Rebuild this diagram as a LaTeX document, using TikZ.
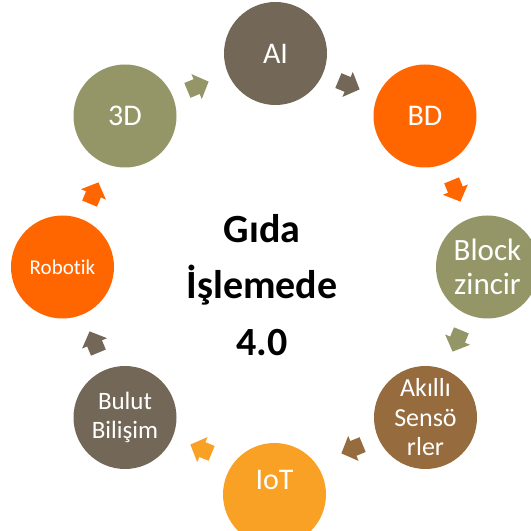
\documentclass[tikz,border=0pt]{standalone}
\usepackage{fontspec}
\setmainfont{Carlito}[Ligatures={NoCommon}]
\definecolor{cgray}{HTML}{736858}
\definecolor{corange}{HTML}{FF6600}
\definecolor{colive}{HTML}{949668}
\definecolor{cbrown}{HTML}{966B3E}
\definecolor{cyellow}{HTML}{F9A124}
\tikzset{
  bubble/.style={circle, fill=#1, draw=none, minimum size=103pt, inner sep=0pt, text=white, align=center},
  blockarr/.style={fill=#1, draw=none}
}
\newcommand{\barrow}[4]{%
  \fill[blockarr=#4, shift={(#1,#2)}, rotate=#3]
    (-11.5,-8) -- (-1.5,-8) -- (-1.5,-13.5) -- (11.5,0) -- (-1.5,13.5) -- (-1.5,8) -- (-11.5,8) -- cycle;}
\begin{document}
\begin{tikzpicture}[x=1pt,y=1pt]
\useasboundingbox (0,0) rectangle (531,531);
\begin{scope}
\clip (0,0) rectangle (531,531);
\node[bubble=cgray, font=\fontsize{30}{33}\selectfont] (ai) at (275.5,477.5) {AI};
\node[bubble=corange, font=\fontsize{30}{33}\selectfont] (bd) at (425,415) {BD};
\node[bubble=colive, font=\fontsize{31}{34}\selectfont] (block) at (487.5,264) {Block\\zincir};
\node[bubble=cbrown, font=\fontsize{26}{29.5}\selectfont] (sens) at (425.5,113.5) {Akıllı\\Sensö\\rler};
\node[circle, fill=cyellow, minimum size=103pt, inner sep=0pt] (iot) at (274.5,36.5) {};
\node[text=white, font=\fontsize{30}{33}\selectfont] (iott) at (274.5,51) {IoT};
\node[bubble=cgray, font=\fontsize{25}{29}\selectfont] (bulut) at (125,113.5) {Bulut\\Bilişim};
\node[bubble=corange, font=\fontsize{21}{24}\selectfont] (robot) at (62.5,264) {Robotik};
\node[bubble=colive, font=\fontsize{30}{33}\selectfont] (td) at (125,415) {3D};
\end{scope}
\barrow{198}{445}{22.5}{colive}
\barrow{349}{446}{-22.5}{cgray}
\barrow{456}{340}{-67.5}{corange}
\barrow{457}{190}{-112.5}{colive}
\barrow{352}{82}{-157.5}{cbrown}
\barrow{201}{82}{157.5}{cyellow}
\barrow{94}{189}{112.5}{cgray}
\barrow{94}{338}{67.5}{corange}
\node[font=\bfseries\fontsize{40}{56.5}\selectfont, align=center] (title) at (262,246) {Gıda\\İşlemede\\4.0};
\end{tikzpicture}
\end{document}
